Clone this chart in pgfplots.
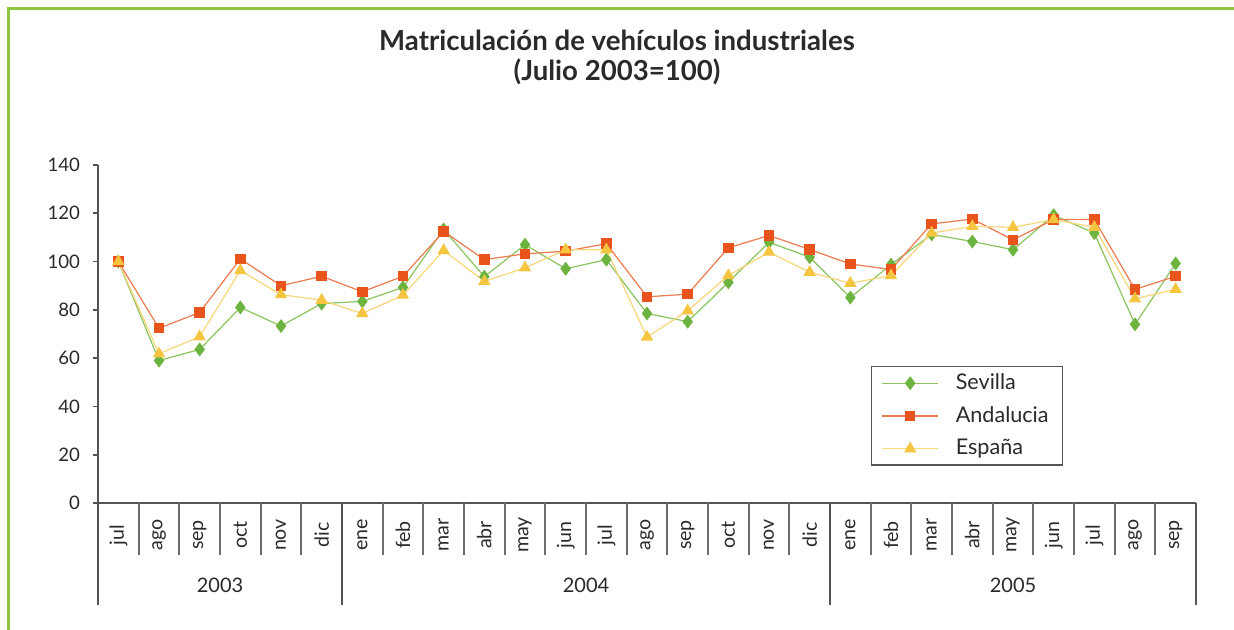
\documentclass[border=0pt]{standalone}
\usepackage{fontspec}
\setmainfont{Lato}
\usepackage{pgfplots}
\pgfplotsset{compat=1.18}
\definecolor{frame}{HTML}{8DC63F}
\definecolor{cgreen}{HTML}{6DB33F}
\definecolor{cgreenl}{HTML}{8CC45E}
\definecolor{cred}{HTML}{E8541C}
\definecolor{credl}{HTML}{EE7A50}
\definecolor{cyel}{HTML}{F6C540}
\definecolor{cyell}{HTML}{F8D77A}
\definecolor{axg}{HTML}{555555}
\definecolor{txt}{HTML}{2A2A2A}
\begin{document}
\begin{tikzpicture}
\useasboundingbox (0,0) rectangle (617pt,315pt);
\fill[white] (0,0) rectangle (617pt,315pt);
\draw[frame, line width=1.5pt] (4pt,0) -- (4pt,310.5pt) -- (617pt,310.5pt);
\node[align=center, text=txt, font=\fontsize{13.8}{15}\selectfont\bfseries] at (308.5pt,286.5pt)
  {Matriculación de vehículos industriales\\(Julio 2003=100)};
\begin{axis}[
  at={(49pt,63.5pt)}, anchor=south west,
  scale only axis, width=549pt, height=169pt,
  xmin=-0.5, xmax=26.5, ymin=0, ymax=140,
  clip=false,
  axis x line=bottom, axis y line=left,
  axis line style={-, draw=axg, line width=0.9pt},
  ytick={0,20,...,140},
  tick align=outside, major tick length=2.5pt,
  ytick style={draw=axg, line width=0.8pt},
  xtick={0,...,26},
  xtick style={draw=none},
  xticklabels={jul,ago,sep,oct,nov,dic,ene,feb,mar,abr,may,jun,jul,ago,sep,oct,nov,dic,ene,feb,mar,abr,may,jun,jul,ago,sep},
  xticklabel style={rotate=90, anchor=center, xshift=-13.5pt, font=\fontsize{9.8}{10}\selectfont, text=txt},
  yticklabel style={font=\fontsize{9.3}{10}\selectfont, text=txt, xshift=-3pt},
  /pgf/number format/assume math mode=true,
  legend style={at={(0.704,0.405)}, anchor=north west, draw=axg, line width=0.6pt,
    font=\fontsize{10.8}{12}\selectfont, text=txt, inner xsep=5pt, inner ysep=1.5pt,
    row sep=3pt, cells={anchor=west}},
  legend image code/.code={\draw[mark repeat=2,mark phase=2] plot coordinates {(0pt,0pt) (14pt,0pt) (28pt,0pt)};},
]
\addplot[color=cgreenl, line width=0.6pt, mark=diamond*, mark size=3pt, mark options={fill=cgreen, draw=cgreen}]
 coordinates {(0,100)(1,59)(2,63.6)(3,81)(4,73.3)(5,82.6)(6,83.5)(7,89.3)(8,113.3)(9,93.75)(10,107)(11,97)(12,100.8)(13,78.5)(14,75.1)(15,91.4)(16,108)(17,101.8)(18,85.1)(19,98.75)(20,111.25)(21,108.3)(22,104.9)(23,119.2)(24,111.8)(25,74)(26,99.2)};
\addlegendentry{\hspace{6.5pt}Sevilla}
\addplot[color=credl, line width=0.6pt, mark=square*, mark size=2.3pt, mark options={fill=cred, draw=cred}]
 coordinates {(0,100)(1,72.4)(2,78.9)(3,101.1)(4,90)(5,93.9)(6,87.5)(7,93.9)(8,112.5)(9,100.8)(10,103.2)(11,104.3)(12,107.4)(13,85.4)(14,86.5)(15,105.7)(16,110.8)(17,105)(18,99)(19,96.7)(20,115.6)(21,117.6)(22,109)(23,117.4)(24,117.4)(25,88.5)(26,93.9)};
\addlegendentry{\hspace{6.5pt}Andalucia}
\addplot[color=cyell, line width=0.6pt, mark=triangle*, mark size=3pt, mark options={fill=cyel, draw=cyel}]
 coordinates {(0,100)(1,61.8)(2,68.9)(3,96.3)(4,86.3)(5,84)(6,78.5)(7,86.1)(8,104.6)(9,91.8)(10,97.4)(11,104.9)(12,104.9)(13,68.75)(14,79.6)(15,94.2)(16,103.9)(17,95.6)(18,91)(19,94.2)(20,111.8)(21,114.6)(22,114.2)(23,117.4)(24,114.2)(25,84.6)(26,88.5)};
\addlegendentry{\hspace{6.5pt}España}
% separators
\pgfplotsinvokeforeach{0.5,1.5,2.5,3.5,4.5,6.5,7.5,8.5,9.5,10.5,11.5,12.5,13.5,14.5,15.5,16.5,18.5,19.5,20.5,21.5,22.5,23.5,24.5,25.5}{
  \draw[draw=axg!85, line width=0.9pt] (axis cs:#1,0) -- ([yshift=-26pt]axis cs:#1,0);
}
\pgfplotsinvokeforeach{-0.5,5.5,17.5,26.5}{
  \draw[draw=axg, line width=0.9pt] (axis cs:#1,0) -- ([yshift=-51pt]axis cs:#1,0);
}
\node[text=txt, font=\fontsize{10}{10}\selectfont] at ([yshift=-41pt]axis cs:2.5,0) {2003};
\node[text=txt, font=\fontsize{10}{10}\selectfont] at ([yshift=-41pt]axis cs:11.5,0) {2004};
\node[text=txt, font=\fontsize{10}{10}\selectfont] at ([yshift=-41pt]axis cs:22,0) {2005};
\end{axis}
\end{tikzpicture}
\end{document}
